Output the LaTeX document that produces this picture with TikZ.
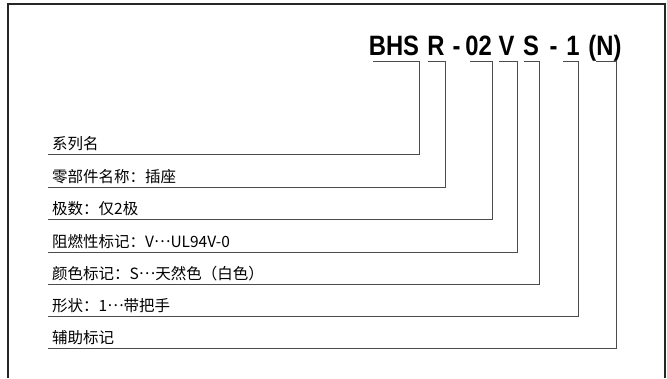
\documentclass[tikz,border=0pt]{standalone}
\usepackage{fontspec}
\newfontfamily\cjk{Noto Sans CJK SC}
\newfontfamily\titlefont[FakeStretch=0.85]{Liberation Sans}
\newcommand\middots{\raisebox{0.32em}{…}}
\begin{document}
\begin{tikzpicture}[x=1pt,y=-1pt,
  frame/.style={draw=black!85,line width=1.2pt},
  conn/.style={draw=black!70,line width=1pt},
  tok/.style={inner sep=0pt,anchor=base,font=\titlefont\bfseries\fontsize{28}{28}\selectfont},
  lbl/.style={inner sep=0pt,anchor=base west,font=\cjk\fontsize{15.5}{15.5}\selectfont}]
\useasboundingbox (0,0) rectangle (667,378);
\draw[frame] (8,378) -- (8,4) -- (665,4) -- (665,378);
% title tokens
\node[tok] (tBHS) at (394,55) {BHS};
\node[tok] (tR) at (436,55) {R};
\node[tok] (td1) at (456.5,55) {-};
\node[tok] (t02) at (478.5,55) {02};
\node[tok] (tV) at (506.5,55) {V};
\node[tok] (tS) at (531,55) {S};
\node[tok] (td2) at (553.5,55) {-};
\node[tok] (t1) at (573,55) {1};
\node[tok] (tN) at (605,55) {(N)};
% labels
\node[lbl] (l1) at (52,149.5) {系列名};
\node[lbl] (l2) at (52,182) {零部件名称：插座};
\node[lbl] (l3) at (52,214.5) {极数：仅2极};
\node[lbl] (l4) at (52,247) {阻燃性标记：V\middots UL94V-0};
\node[lbl] (l5) at (52,279) {颜色标记：S\middots 天然色（白色）};
\node[lbl] (l6) at (52,311) {形状：1\middots 带把手};
\node[lbl] (l7) at (52,343.5) {辅助标记};
% connector coordinates
\coordinate (s1) at (373,61); \coordinate (e1) at (419,61); \coordinate (r1) at (48,154.5);
\coordinate (s2) at (428,61); \coordinate (e2) at (445,61); \coordinate (r2) at (48,187);
\coordinate (s3) at (470,61); \coordinate (e3) at (492,61); \coordinate (r3) at (48,219.5);
\coordinate (s4) at (499,61); \coordinate (e4) at (517,61); \coordinate (r4) at (48,252);
\coordinate (s5) at (524,61); \coordinate (e5) at (539,61); \coordinate (r5) at (48,284);
\coordinate (s6) at (563,61); \coordinate (e6) at (578,61); \coordinate (r6) at (48,316);
\coordinate (s7) at (596,61); \coordinate (e7) at (616,61); \coordinate (r7) at (48,348.5);
\foreach \i in {1,...,7} {\draw[conn] (s\i) -- (e\i) |- (r\i);}
\end{tikzpicture}
\end{document}
